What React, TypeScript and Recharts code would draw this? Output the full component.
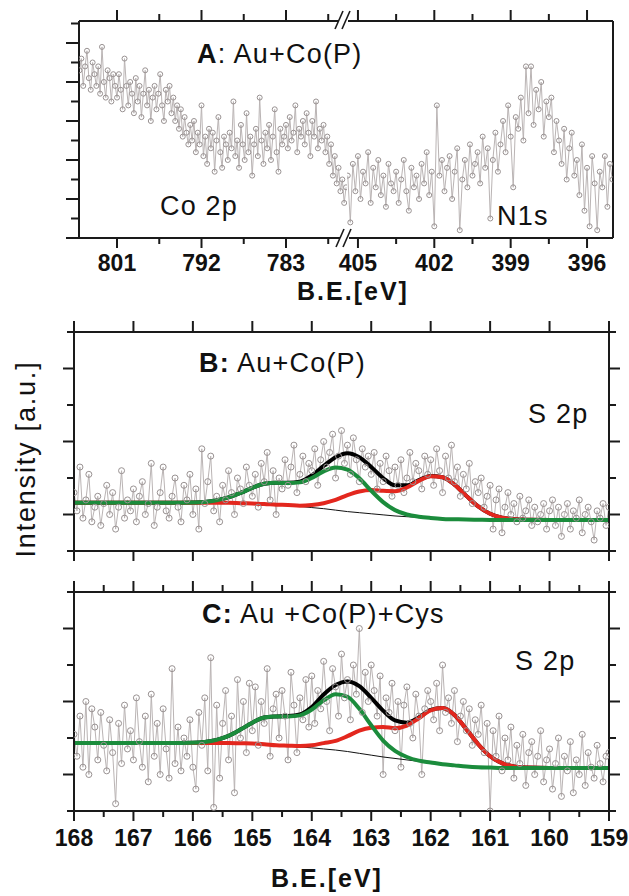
import React from 'react';
import { LineChart, Line, XAxis, YAxis } from 'recharts';

const FONT = "'Liberation Sans', Arial, Helvetica, sans-serif";
const INK = '#1a1a1a';
const DOT_GREY = '#999292';
const LINE_GREY = '#bab4b4';
const GREEN = '#1b8c3c';
const RED = '#e3271e';

// ---------- panel A : Co 2p (805 -> 776.6 eV, 0.2 eV step) ----------
const coStart = 805.0;
const coStep = 0.2;
const coIntensity = [
  4.3, 4.6, 3.9, 4.4, 4.8, 4.1, 3.8, 4.5, 4.2, 3.9,
  4.4, 3.7, 4.9, 4.0, 3.6, 4.3, 4.1, 3.5, 4.2, 3.9,
  3.6, 4.2, 3.8, 3.3, 4.6, 3.9, 3.4, 4.0, 3.7, 3.2,
  4.1, 3.5, 3.9, 3.1, 3.7, 4.3, 3.4, 3.8, 3.0, 3.6,
  3.9, 3.3, 3.7, 4.2, 3.4, 3.0, 3.8, 3.5, 3.9, 3.2,
  3.6, 3.0, 3.4, 2.8, 3.3, 2.6, 3.1, 2.7, 2.4, 2.9,
  2.5, 3.0, 2.2, 2.7, 2.4, 3.4, 2.1, 2.6, 1.9, 2.8,
  2.3, 2.7, 1.7, 2.5, 3.1, 2.2, 1.8, 2.6, 2.4, 2.0,
  2.7, 2.3, 3.5, 2.1, 2.5, 1.8, 2.9, 2.4, 2.0, 3.2,
  2.2, 2.6, 1.6, 2.4, 2.8, 2.1, 3.6, 2.5, 1.9, 2.7,
  2.3, 2.9, 2.0, 2.6, 3.3, 2.2, 1.7, 2.8, 2.4, 2.6,
  2.9, 2.3, 3.1, 2.5, 2.7, 3.4, 2.2, 2.8, 2.6, 3.0,
  2.4, 3.2, 2.7, 2.1, 3.0, 2.6, 3.5, 2.3, 2.8, 2.5,
  2.9, 2.2, 2.6, 1.9, 2.4, 1.6, 2.1, 1.4, 1.8, 1.2,
  1.5, 0.9, 1.3,
];

// ---------- panel A : N1s (405.4 -> 395.0 eV, 0.1 eV step) ----------
const nStart = 405.4;
const nStep = 0.1;
const nIntensity = [
  1.6, 0.4, 1.9, 1.2, 2.1, 1.0, 1.7, 1.4, 2.2, 0.9,
  1.8, 1.3, 2.0, 1.1, 1.6, 0.8, 1.9, 1.4, 1.2, 1.7,
  0.9, 1.5, 2.0, 1.2, 0.7, 1.8, 1.3, 1.6, 1.0, 1.9,
  1.4, 2.2, 1.1, 1.7, 0.3, 3.4, 1.6, 2.0, 1.2, 1.8,
  2.1, 1.0, 1.7, 2.3, 0.2, 1.5, 2.0, 1.3, 2.4, 1.6,
  1.9, 2.2, 1.4, 2.6, 1.8, 2.3, 0.5, 2.0, 2.7, 1.7,
  2.4, 3.0, 2.2, 3.4, 2.6, 1.3, 3.1, 2.8, 3.6, 2.5,
  4.4, 3.2, 4.4, 2.9, 3.8, 3.3, 4.0, 2.6, 3.5, 3.1,
  3.6, 2.2, 3.0, 2.5, 1.9, 2.8, 1.5, 2.3, 2.7, 1.6,
  2.0, 1.1, 2.4, 0.7, 1.8, 0.3, 2.1, 1.4, 0.2, 1.7,
  1.3, 2.1, 0.8, 1.9, 1.5,
];

// ---------- panels B and C : S 2p raw spectra (168 -> 159 eV, 0.05 eV step) ----------
const s2pStart = 168.0;
const s2pStep = 0.05;
const rawB = [
  1.6, 1.1, 2.3, 0.9, 1.4, 2.1, 0.8, 1.2, 1.5, 0.7, 1.3, 1.8, 1.0, 1.6, 0.6, 1.2, 2.2, 0.9, 1.4, 1.1,
  1.7, 0.8, 1.5, 1.9, 1.0, 1.3, 2.4, 0.7, 1.2, 1.6, 2.3, 1.1, 0.9, 1.5, 2.0, 1.2, 0.8, 1.8, 1.4, 2.1,
  1.0, 1.7, 0.6, 2.8, 1.3, 1.9, 2.6, 1.1, 1.5, 0.8, 1.8, 1.4, 2.2, 1.6, 1.0, 2.0, 1.7, 1.3, 2.3, 1.8,
  1.5, 2.1, 1.2, 2.4, 1.9, 2.7, 1.4, 2.2, 1.0, 2.0, 1.7, 2.5, 1.8, 2.3, 2.9, 1.6, 2.1, 2.6, 1.9, 2.4,
  2.2, 2.8, 1.8, 2.5, 3.0, 2.3, 2.7, 3.2, 2.0, 2.6, 3.3, 2.4, 2.9, 2.1, 3.1, 2.5, 1.9, 2.8, 2.3, 2.6,
  2.1, 2.7, 1.7, 2.4, 1.9, 2.6, 2.2, 1.5, 2.3, 1.8, 2.5, 1.6, 2.0, 2.7, 1.9, 2.4, 2.2, 1.7, 2.6, 2.1,
  2.5, 1.8, 2.8, 2.2, 1.6, 2.6, 2.0, 2.9, 1.9, 2.3, 1.5, 2.1, 1.7, 2.4, 1.3, 1.9, 1.6, 2.0, 1.2, 1.5,
  1.8, 0.6, 1.4, 1.7, 0.5, 1.2, 1.6, 1.0, 1.3, 0.8, 1.5, 0.9, 1.1, 1.4, 0.7, 1.2, 0.8, 1.0, 1.3, 0.6,
  1.1, 1.4, 0.7, 1.2, 0.4, 1.0, 1.3, 0.6, 1.1, 0.9, 1.4, 0.5, 1.0, 1.2, 0.8, 0.3, 1.1, 0.9, 1.3, 0.7,
  1.2,
];
const rawC = [
  2.1, 1.5, 2.6, 1.2, 3.0, 1.0, 2.8, 2.3, 1.4, 2.7, 1.8, 1.1, 2.5, 1.6, 0.2, 2.4, 1.3, 2.9, 1.7, 2.2,
  1.4, 3.1, 1.9, 1.2, 2.6, 0.8, 3.2, 1.5, 2.4, 1.0, 2.8, 1.7, 0.9, 3.9, 1.3, 2.3, 1.1, 2.0, 1.5, 2.5,
  1.2, 0.6, 2.7, 1.8, 3.1, 1.1, 4.2, 0.1, 2.9, 0.9, 2.4, 3.3, 1.4, 2.6, 0.5, 3.6, 2.0, 3.0, 1.6, 3.5,
  2.2, 3.4, 1.8, 3.0, 2.4, 3.9, 1.5, 2.8, 3.2, 2.0, 3.3, 2.6, 1.4, 3.8, 2.9, 1.6, 3.1, 2.5, 3.6, 2.3,
  3.7, 2.4, 3.3, 2.8, 4.1, 3.0, 2.2, 3.9, 3.4, 2.6, 4.3, 3.1, 3.6, 2.5, 4.0, 3.2, 5.0, 2.7, 3.8, 3.0,
  4.0, 3.3, 2.6, 3.7, 1.0, 3.1, 2.7, 3.5, 2.2, 3.0, 1.2, 2.9, 3.4, 2.4, 2.0, 3.2, 2.6, 1.0, 2.8, 3.3,
  3.0, 2.5, 3.5, 2.2, 4.0, 2.7, 3.1, 2.4, 3.3, 1.9, 2.6, 3.0, 2.2, 2.8, 1.8, 2.5, 2.1, 2.9, 1.6, 2.4,
  0.0, 2.2, 1.5, 2.6, 1.1, 2.0, 1.4, 2.3, 0.9, 1.8, 1.3, 2.1, 0.7, 1.6, 1.9, 1.0, 1.5, 2.2, 0.8, 1.4,
  1.7, 0.6, 1.3, 2.0, 0.4, 1.5, 1.1, 1.9, 0.5, 1.4, 1.0, 2.1, 0.7, 1.6, 1.2, 0.9, 1.8, 1.3, 0.8, 1.5,
  1.6,
];

// ---------- fitted components (shared B.E. grid) ----------
const fitBE = [
  168, 167, 166.4, 166.0, 165.8, 165.6, 165.4, 165.2, 165.0, 164.8, 164.6, 164.4,
  164.2, 164.0, 163.8, 163.6, 163.4, 163.2, 163.0, 162.8, 162.6, 162.4, 162.2, 162.0,
  161.8, 161.6, 161.4, 161.2, 161.0, 160.8, 160.6, 160.4, 160.0, 159,
];
const baseB = [
  1.32, 1.32, 1.32, 1.32, 1.32, 1.32, 1.32, 1.31, 1.30, 1.29, 1.27, 1.25,
  1.22, 1.19, 1.16, 1.12, 1.08, 1.05, 1.02, 0.99, 0.96, 0.94, 0.92, 0.90,
  0.88, 0.87, 0.86, 0.855, 0.85, 0.85, 0.85, 0.85, 0.85, 0.85,
];
const envB = [
  1.32, 1.32, 1.32, 1.33, 1.345, 1.39, 1.47, 1.59, 1.73, 1.84, 1.87, 1.87,
  1.90, 2.07, 2.33, 2.57, 2.68, 2.57, 2.30, 2.00, 1.80, 1.80, 1.94, 2.055,
  2.02, 1.82, 1.51, 1.22, 1.02, 0.915, 0.87, 0.855, 0.85, 0.85,
];
const redB = [
  1.32, 1.32, 1.32, 1.32, 1.32, 1.32, 1.32, 1.31, 1.30, 1.29, 1.27, 1.26,
  1.24, 1.26, 1.31, 1.40, 1.53, 1.63, 1.67, 1.65, 1.64, 1.74, 1.92, 2.05,
  2.02, 1.82, 1.51, 1.22, 1.02, 0.915, 0.87, 0.855, 0.85, 0.85,
];
const greenB = [
  1.32, 1.32, 1.32, 1.33, 1.345, 1.39, 1.47, 1.59, 1.73, 1.84, 1.87, 1.86,
  1.88, 2.00, 2.18, 2.29, 2.23, 1.99, 1.65, 1.34, 1.12, 1.00, 0.94, 0.905,
  0.88, 0.87, 0.86, 0.855, 0.85, 0.85, 0.85, 0.85, 0.85, 0.85,
];
const baseC = [
  1.86, 1.86, 1.86, 1.86, 1.86, 1.86, 1.86, 1.855, 1.85, 1.83, 1.80, 1.78,
  1.755, 1.73, 1.70, 1.67, 1.63, 1.58, 1.53, 1.48, 1.44, 1.40, 1.36, 1.32,
  1.28, 1.25, 1.22, 1.20, 1.19, 1.18, 1.18, 1.18, 1.18, 1.18,
];
const envC = [
  1.86, 1.86, 1.86, 1.87, 1.893, 1.95, 2.06, 2.23, 2.42, 2.56, 2.59, 2.60,
  2.645, 2.85, 3.19, 3.45, 3.55, 3.42, 3.10, 2.75, 2.48, 2.42, 2.56, 2.77,
  2.82, 2.63, 2.24, 1.83, 1.50, 1.31, 1.22, 1.19, 1.18, 1.18,
];
const redC = [
  1.86, 1.86, 1.86, 1.86, 1.86, 1.86, 1.86, 1.855, 1.85, 1.83, 1.80, 1.79,
  1.78, 1.80, 1.86, 1.92, 2.05, 2.20, 2.28, 2.30, 2.27, 2.34, 2.54, 2.76,
  2.82, 2.63, 2.24, 1.83, 1.50, 1.31, 1.22, 1.19, 1.18, 1.18,
];
const greenC = [
  1.86, 1.86, 1.86, 1.87, 1.893, 1.95, 2.06, 2.23, 2.42, 2.56, 2.59, 2.59,
  2.62, 2.78, 3.03, 3.20, 3.13, 2.80, 2.35, 1.93, 1.65, 1.48, 1.38, 1.33,
  1.28, 1.25, 1.22, 1.20, 1.19, 1.18, 1.18, 1.18, 1.18, 1.18,
];

// ---------- ticks ----------
const coMajor = [801, 792, 783];
const coMinor = [796.5, 787.5, 778.5];
const nMajor = [405, 402, 399, 396];
const nMinor = [403.5, 400.5, 397.5];
const sMajor = [168, 167, 166, 165, 164, 163, 162, 161, 160, 159];
const sMinor = [167.5, 166.5, 165.5, 164.5, 163.5, 162.5, 161.5, 160.5, 159.5];
const aYMajor = [0, 1, 2, 3, 4, 5];
const aYMinor = [0.5, 1.5, 2.5, 3.5, 4.5, 5.5];
const sYMajor = [1, 3, 5];
const sYMinor = [0, 2, 4, 6];

const series = (start: number, step: number, ys: number[]) =>
  ys.map((y, i) => ({ x: +(start - i * step).toFixed(3), y }));
const fitRows = (ys: number[]) => fitBE.map((x, i) => ({ x, y: ys[i] }));

const coData = series(coStart, coStep, coIntensity);
const nData = series(nStart, nStep, nIntensity);
const bData = series(s2pStart, s2pStep, rawB);
const cData = series(s2pStart, s2pStep, rawC);

type Side = 'top' | 'bottom' | 'left' | 'right';

const makeTick =
  (side: Side, majors: number[], majorLen: number, minorLen: number, labelDy = 0) =>
  (props: any) => {
    const { x, y, payload } = props;
    const v = Number(payload.value);
    const isMajor = majors.some((m) => Math.abs(m - v) < 1e-6);
    const len = isMajor ? majorLen : minorLen;
    let x2 = x;
    let y2 = y;
    if (side === 'top') y2 = y - len;
    if (side === 'bottom') y2 = y + len;
    if (side === 'left') x2 = x - len;
    if (side === 'right') x2 = x + len;
    return (
      <g>
        <line x1={x} y1={y} x2={x2} y2={y2} stroke={INK} strokeWidth={2} />
        {labelDy > 0 && isMajor && (
          <text
            x={x}
            y={y + labelDy}
            textAnchor="middle"
            fontSize={23}
            fontWeight="bold"
            fontFamily={FONT}
            fill="#111"
          >
            {v}
          </text>
        )}
      </g>
    );
  };

const axisLine = { stroke: INK, strokeWidth: 2 };
const noTicks = () => <g />;

const rawLine = (data: any[], r: number, xId = 'b', yId = 'l') => (
  <Line
    data={data}
    dataKey="y"
    xAxisId={xId}
    yAxisId={yId}
    type="linear"
    stroke={LINE_GREY}
    strokeWidth={1}
    dot={{ r, stroke: DOT_GREY, strokeWidth: 1, fill: 'none' }}
    isAnimationActive={false}
  />
);

const fitLine = (ys: number[], color: string, width: number) => (
  <Line
    data={fitRows(ys)}
    dataKey="y"
    xAxisId="b"
    yAxisId="l"
    type="monotone"
    stroke={color}
    strokeWidth={width}
    dot={false}
    isAnimationActive={false}
  />
);

const SPanel = ({
  raw,
  base,
  env,
  red,
  green,
  top,
  height,
  topH,
  bottomH,
  minorX,
  labels,
}: any) => {
  const xt = minorX ? [...sMajor, ...sMinor] : sMajor;
  const yt = [...sYMajor, ...sYMinor];
  return (
    <div style={{ position: 'absolute', left: 0, top }}>
      <LineChart width={629} height={height} margin={{ top: 0, right: 0, bottom: 0, left: 0 }}>
        <XAxis
          xAxisId="b"
          type="number"
          dataKey="x"
          domain={[159, 168]}
          reversed
          allowDataOverflow
          ticks={xt}
          interval={0}
          tickSize={0}
          tickMargin={0}
          tickLine={false}
          height={bottomH}
          axisLine={axisLine}
          tick={makeTick('bottom', sMajor, 10, 6, labels ? 35 : 0)}
        />
        <XAxis
          xAxisId="t"
          orientation="top"
          type="number"
          dataKey="x"
          domain={[159, 168]}
          reversed
          allowDataOverflow
          ticks={xt}
          interval={0}
          tickSize={0}
          tickMargin={0}
          tickLine={false}
          height={topH}
          axisLine={axisLine}
          tick={makeTick('top', sMajor, 11, 7)}
        />
        <YAxis
          yAxisId="l"
          type="number"
          domain={[0, 6]}
          allowDataOverflow
          ticks={yt}
          interval={0}
          tickSize={0}
          tickMargin={0}
          tickLine={false}
          width={74}
          axisLine={axisLine}
          tick={makeTick('left', sYMajor, 11, 7)}
        />
        <YAxis
          yAxisId="r"
          orientation="right"
          type="number"
          domain={[0, 6]}
          allowDataOverflow
          ticks={yt}
          interval={0}
          tickSize={0}
          tickMargin={0}
          tickLine={false}
          width={20}
          axisLine={axisLine}
          tick={makeTick('right', sYMajor, 11, 7)}
        />
        {rawLine(raw, 3)}
        {fitLine(base, '#111', 1)}
        {fitLine(env, '#000', 4)}
        {fitLine(red, RED, 4)}
        {fitLine(green, GREEN, 4)}
      </LineChart>
    </div>
  );
};

const txt = { fontFamily: FONT, fontSize: 27, fill: '#111', letterSpacing: 1.2 } as const;

export default function App() {
  return (
    <div style={{ position: 'relative', width: 629, height: 896, background: '#fff', overflow: 'hidden' }}>
      <style>{'body{margin:0}'}</style>

      {/* panel A, left segment: Co 2p */}
      <div style={{ position: 'absolute', left: 0, top: 0 }}>
        <LineChart width={347} height={300} margin={{ top: 0, right: 0, bottom: 0, left: 0 }}>
          <XAxis
            xAxisId="b"
            type="number"
            dataKey="x"
            domain={[776.5, 805.05]}
            reversed
            allowDataOverflow
            ticks={[...coMajor, ...coMinor]}
            interval={0}
            tickSize={0}
            tickMargin={0}
            tickLine={false}
            height={62}
            axisLine={axisLine}
            tick={makeTick('bottom', coMajor, 10, 6, 33)}
          />
          <XAxis
            xAxisId="t"
            orientation="top"
            type="number"
            dataKey="x"
            domain={[776.5, 805.05]}
            reversed
            allowDataOverflow
            ticks={[...coMajor, ...coMinor]}
            interval={0}
            tickSize={0}
            tickMargin={0}
            tickLine={false}
            height={21}
            axisLine={axisLine}
            tick={makeTick('top', coMajor, 11, 7)}
          />
          <YAxis
            yAxisId="l"
            type="number"
            domain={[0, 5.564]}
            allowDataOverflow
            ticks={[...aYMajor, ...aYMinor]}
            interval={0}
            tickSize={0}
            tickMargin={0}
            tickLine={false}
            width={79}
            axisLine={axisLine}
            tick={makeTick('left', aYMajor, 13, 8)}
          />
          {rawLine(coData, 2.5)}
        </LineChart>
      </div>

      {/* panel A, right segment: N1s (svg starts at 330 so the "405" label fits) */}
      <div style={{ position: 'absolute', left: 330, top: 0 }}>
        <LineChart width={299} height={300} margin={{ top: 0, right: 0, bottom: 0, left: 17 }}>
          <XAxis
            xAxisId="b"
            type="number"
            dataKey="x"
            domain={[394.98, 405.43]}
            reversed
            allowDataOverflow
            ticks={[...nMajor, ...nMinor]}
            interval={0}
            tickSize={0}
            tickMargin={0}
            tickLine={false}
            height={62}
            axisLine={axisLine}
            tick={makeTick('bottom', nMajor, 10, 6, 33)}
          />
          <XAxis
            xAxisId="t"
            orientation="top"
            type="number"
            dataKey="x"
            domain={[394.98, 405.43]}
            reversed
            allowDataOverflow
            ticks={[...nMajor, ...nMinor]}
            interval={0}
            tickSize={0}
            tickMargin={0}
            tickLine={false}
            height={21}
            axisLine={axisLine}
            tick={makeTick('top', nMajor, 11, 7)}
          />
          <YAxis
            yAxisId="r"
            orientation="right"
            type="number"
            domain={[0, 5.564]}
            allowDataOverflow
            width={16}
            tickLine={false}
            axisLine={axisLine}
            tick={noTicks}
          />
          {rawLine(nData, 2.5, 'b', 'r')}
        </LineChart>
      </div>

      <SPanel raw={bData} base={baseB} env={envB} red={redB} green={greenB}
        top={300} height={265} topH={32} bottomH={14} minorX={false} labels={false} />
      <SPanel raw={cData} base={baseC} env={envC} red={redC} green={greenC}
        top={565} height={331} topH={27} bottomH={85} minorX labels />

      {/* annotations and axis-break marks */}
      <svg width={629} height={896} style={{ position: 'absolute', left: 0, top: 0, pointerEvents: 'none' }}>
        <rect x={339} y={16} width={9} height={10} fill="#fff" />
        <line x1={335} y1={29} x2={343} y2={11} stroke={INK} strokeWidth={1.6} />
        <line x1={342} y1={29} x2={350} y2={11} stroke={INK} strokeWidth={1.6} />
        <rect x={340} y={233} width={9} height={10} fill="#fff" />
        <line x1={336} y1={247} x2={344} y2={229} stroke={INK} strokeWidth={1.6} />
        <line x1={343} y1={247} x2={351} y2={229} stroke={INK} strokeWidth={1.6} />

        <text x={197} y={63} {...txt}>
          <tspan fontWeight="bold">A</tspan>
          {': Au+Co(P)'}
        </text>
        <text x={160} y={215} {...txt}>Co 2p</text>
        <text x={497} y={225} {...txt}>N1s</text>
        <text x={353} y={300} textAnchor="middle" fontFamily={FONT} fontSize={25} fontWeight="bold" letterSpacing={2} fill="#111">
          B.E.[eV]
        </text>

        <text x={199} y={372} {...txt}>
          <tspan fontWeight="bold">B:</tspan>
          {' Au+Co(P)'}
        </text>
        <text x={528} y={423} {...txt}>S 2p</text>

        <text x={202} y={623} {...txt}>
          <tspan fontWeight="bold">C:</tspan>
          {' Au +Co(P)+Cys'}
        </text>
        <text x={515} y={670} {...txt}>S 2p</text>
        <text x={327} y={887} textAnchor="middle" fontFamily={FONT} fontSize={25} fontWeight="bold" letterSpacing={2} fill="#111">
          B.E.[eV]
        </text>

        <text
          x={0}
          y={0}
          transform="translate(35 459) rotate(-90)"
          textAnchor="middle"
          fontFamily={FONT}
          fontSize={27}
          letterSpacing={1.8}
          fill="#111"
        >
          Intensity [a.u.]
        </text>
      </svg>
    </div>
  );
}
